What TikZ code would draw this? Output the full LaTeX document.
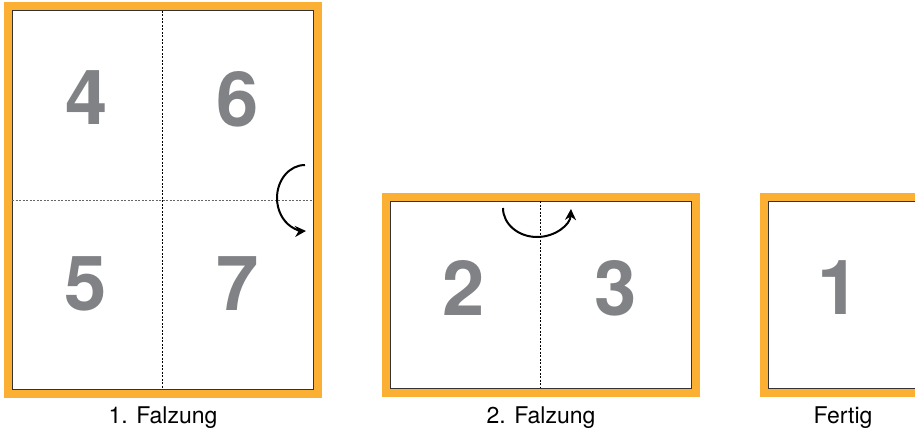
\documentclass[tikz,border=0pt]{standalone}
\usepackage{fontspec}
\setmainfont{TeX Gyre Heros}
\usepackage{xcolor}
\definecolor{fold}{RGB}{251,176,52}
\definecolor{pagenum}{RGB}{128,130,133}
\usetikzlibrary{arrows.meta,calc}

\begin{document}
\begin{tikzpicture}[x=1pt,y=1pt,
  sheet/.style={draw=black!80,fill=white,line width=1pt,inner sep=0pt,outer sep=0pt},
  rim/.style={draw=fold,line width=8pt},
  crease/.style={line width=0.6pt,dash pattern=on 2pt off 1.5pt},
  num/.style={text=pagenum,font=\fontsize{76}{76}\selectfont\bfseries},
  caption/.style={anchor=base,font=\fontsize{23}{26}\selectfont},
  turn/.style={line width=2pt,-{Stealth[length=11pt,width=11pt]}}]
  \useasboundingbox (0,0) rectangle (915,432);
  \clip (0,0) rectangle (915,432);
  % 1. Falzung
  \node[sheet,minimum width=301pt,minimum height=378pt] (s1) at (162.5,232) {};
  \draw[rim] ($(s1.south west)+(-4.5,-4.5)$) rectangle ($(s1.north east)+(4.5,4.5)$);
  \draw[crease] (s1.north) -- (s1.south);
  \draw[crease,black!60] (s1.west) -- (s1.east);
  \node[num] (p4) at (87,334) {4};
  \node[num] (p6) at (238,333) {6};
  \node[num] (p5) at (86,148) {5};
  \node[num] (p7) at (238,148) {7};
  \draw[turn] (305,267) arc (90:272:28 and 33);
  \node[caption] (c1) at (163,9) {1. Falzung};
  % 2. Falzung
  \node[sheet,minimum width=301pt,minimum height=187pt] (s2) at (540.5,137.5) {};
  \draw[rim] ($(s2.south west)+(-4.5,-4.5)$) rectangle ($(s2.north east)+(4.5,4.5)$);
  \draw[crease] (s2.north) -- (s2.south);
  \node[num] (p2) at (464,144) {2};
  \node[num] (p3) at (616,144) {3};
  \draw[turn] (503,224) arc (180:358:34 and 29);
  \node[caption] (c2) at (541,9) {2. Falzung};
  % Fertig
  \node[sheet,minimum width=150pt,minimum height=187pt] (s3) at (843,137.5) {};
  \draw[rim] ($(s3.south west)+(-4.5,-4.5)$) rectangle ($(s3.north east)+(4.5,4.5)$);
  \node[num] (p1) at (839,144) {1};
  \node[caption] (c3) at (843,9) {Fertig};
\end{tikzpicture}
\end{document}
